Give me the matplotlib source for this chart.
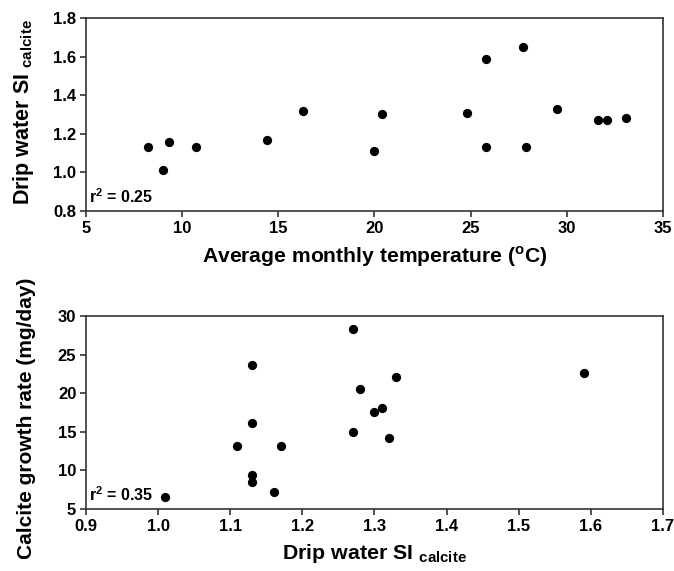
import matplotlib
matplotlib.use("Agg")
import matplotlib.pyplot as plt

# top panel: drip water SI vs average monthly temperature
temp_c = [8.2, 9.0, 9.3, 10.7, 14.4, 16.3, 20.0, 20.4, 24.8, 25.8, 25.8, 27.7, 27.9, 29.5, 31.6, 32.1, 33.1]
si_calcite = [1.13, 1.01, 1.16, 1.13, 1.17, 1.32, 1.11, 1.30, 1.31, 1.59, 1.13, 1.65, 1.13, 1.33, 1.27, 1.27, 1.28]

# bottom panel: calcite growth rate vs drip water SI
si_drip = [1.01, 1.11, 1.13, 1.13, 1.13, 1.13, 1.16, 1.17, 1.27, 1.27, 1.28, 1.30, 1.31, 1.32, 1.33, 1.59]
growth = [6.6, 13.2, 23.6, 16.1, 9.4, 8.5, 7.2, 13.1, 28.3, 15.0, 20.5, 17.6, 18.1, 14.2, 22.1, 22.6]

top_xticks = [5, 10, 15, 20, 25, 30, 35]
top_yticks = [0.8, 1.0, 1.2, 1.4, 1.6, 1.8]
bot_xticks = [0.9, 1.0, 1.1, 1.2, 1.3, 1.4, 1.5, 1.6, 1.7]
bot_yticks = [5, 10, 15, 20, 25, 30]

font = ['Liberation Sans', 'DejaVu Sans']

plt.rcParams['mathtext.fontset'] = 'custom'
plt.rcParams['mathtext.rm'] = 'Liberation Sans:bold'
plt.rcParams['mathtext.bf'] = 'Liberation Sans:bold'

fig = plt.figure(figsize=(6.74, 5.71), dpi=100)
ax1 = fig.add_axes([0.1276, 0.6305, 0.856, 0.338])
ax2 = fig.add_axes([0.1276, 0.1086, 0.856, 0.338])


def style(ax, xticks, yticks, xfmt, yfmt):
    ax.set_xlim(xticks[0], xticks[-1])
    ax.set_ylim(yticks[0], yticks[-1])
    ax.set_xticks(xticks)
    ax.set_yticks(yticks)
    ax.set_xticklabels([xfmt.format(v) for v in xticks], family=font, weight='bold', fontsize=12)
    ax.set_yticklabels([yfmt.format(v) for v in yticks], family=font, weight='bold', fontsize=12)
    ax.tick_params(direction='out', length=4, width=1.2, color='#333333', pad=3)
    for s in ax.spines.values():
        s.set_linewidth(1.2)
        s.set_color('#333333')


ax1.scatter(temp_c, si_calcite, s=32, color='black', zorder=3)
style(ax1, top_xticks, top_yticks, '{:g}', '{:.1f}')
ax1.set_xlabel(r'Average monthly temperature ($^{\mathregular{o}}$C)', family=font,
               weight='bold', fontsize=15.2, labelpad=6)
ax1.set_ylabel(r'Drip water SI $_{\mathregular{calcite}}$', family=font, weight='bold',
               fontsize=15.5)
ax1.yaxis.set_label_coords(-0.086, 0.515)
ax1.text(0.005, 0.04, r'r$^{\mathregular{2}}$ = 0.25', transform=ax1.transAxes,
         family=font, weight='bold', fontsize=11.5)

ax2.scatter(si_drip, growth, s=32, color='black', zorder=3)
style(ax2, bot_xticks, bot_yticks, '{:.1f}', '{:g}')
ax2.set_xlabel(r'Drip water SI $_{\mathregular{calcite}}$', family=font, weight='bold',
               fontsize=15.4, labelpad=6)
ax2.set_ylabel('Calcite growth rate (mg/day)', family=font, weight='bold',
               fontsize=15)
ax2.yaxis.set_label_coords(-0.086, 0.47)
ax2.text(0.005, 0.04, r'r$^{\mathregular{2}}$ = 0.35', transform=ax2.transAxes,
         family=font, weight='bold', fontsize=11.5)

fig.savefig('out.png', dpi=100)
